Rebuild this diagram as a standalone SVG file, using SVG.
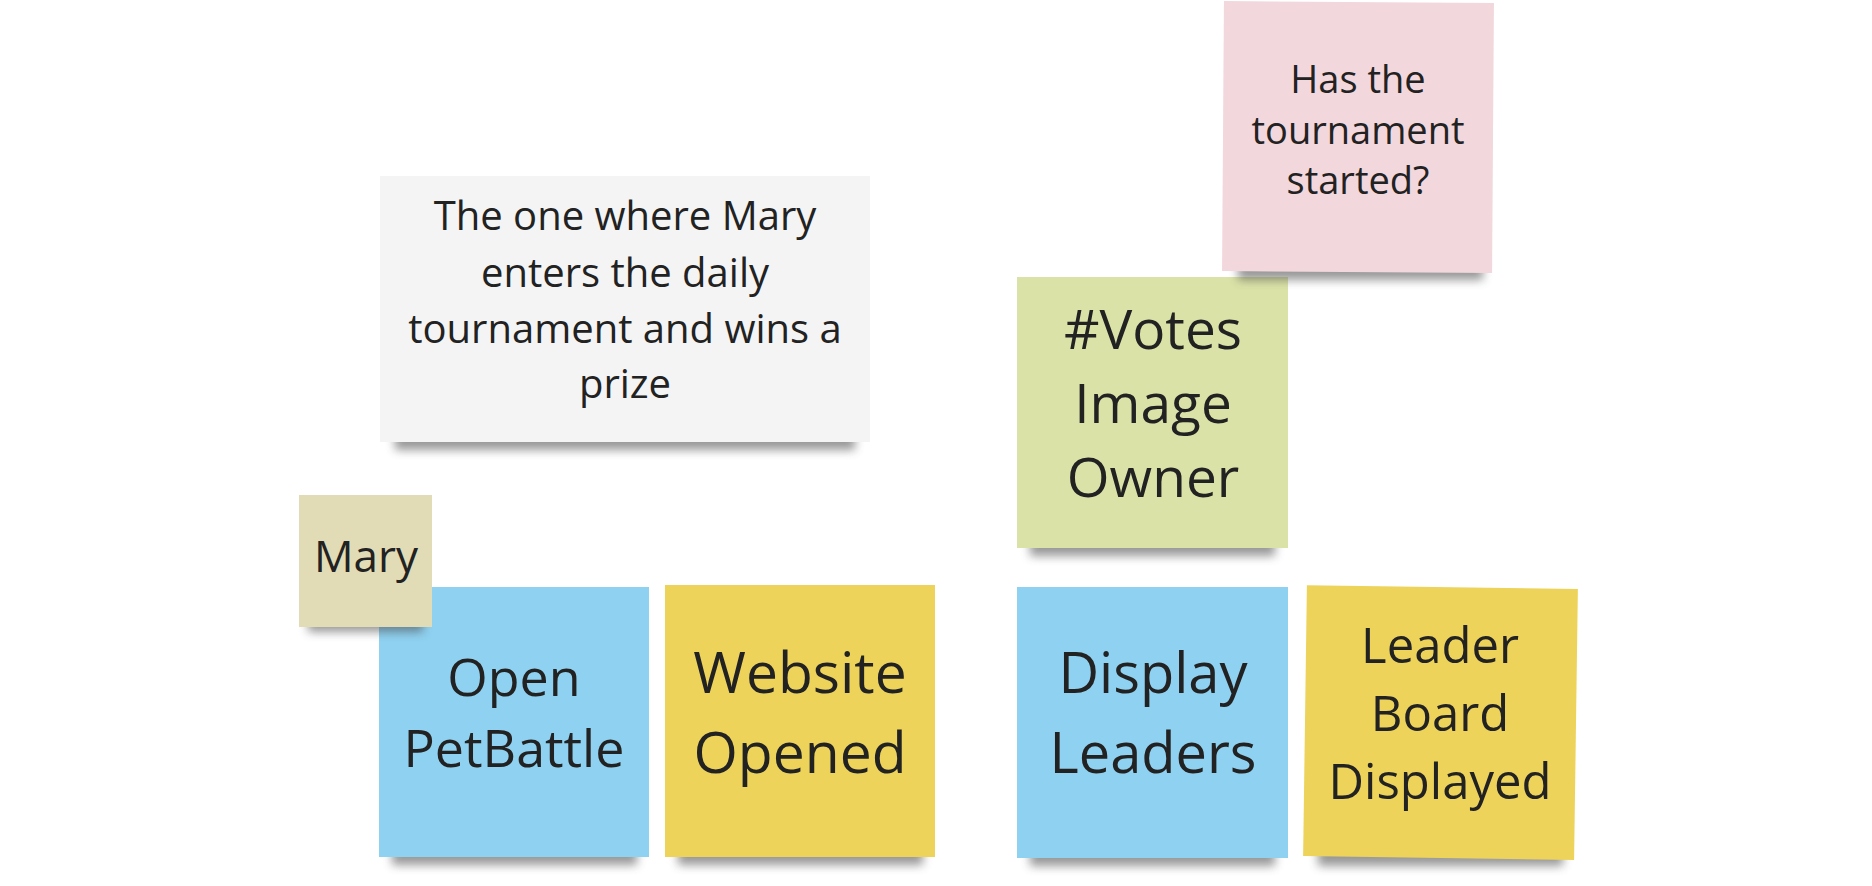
<svg xmlns="http://www.w3.org/2000/svg" width="1872" height="886" viewBox="0 0 1872 886">
<defs>
<filter id="blur" x="-20%" y="-100%" width="140%" height="300%"><feGaussianBlur stdDeviation="5"/></filter>
<style>
text{font-family:"Open Sans","Noto Sans","DejaVu Sans",sans-serif;fill:#222;text-anchor:middle}
.sh{fill:#444;opacity:.55;filter:url(#blur)}
</style>
</defs>
<rect width="1872" height="886" fill="#fff"/>
<g id="connectors"/>
<g id="story">
<rect class="sh" x="395" y="428" width="460" height="22"/>
<rect x="380" y="176" width="490" height="266" fill="#f4f4f4"/>
<text font-size="40"><tspan x="625" y="230">The one where Mary</tspan><tspan x="625" y="287">enters the daily</tspan><tspan x="625" y="343">tournament and wins a</tspan><tspan x="625" y="398">prize</tspan></text>
</g>
<g id="votes">
<rect class="sh" x="1030" y="534" width="245" height="22"/>
<rect x="1017" y="277" width="271" height="271" fill="#dbe2a7"/>
<text font-size="55"><tspan x="1153" y="349">#Votes</tspan><tspan x="1153" y="423">Image</tspan><tspan x="1153" y="497">Owner</tspan></text>
</g>
<g id="question">
<rect class="sh" x="1238" y="258" width="245" height="22"/>
<rect x="1223" y="2" width="270" height="270" fill="#f2d7dc" transform="rotate(0.4 1358 137)"/>
<text font-size="38"><tspan x="1358" y="93">Has the</tspan><tspan x="1358" y="143.5">tournament</tspan><tspan x="1358" y="194">started?</tspan></text>
</g>
<g id="open-petbattle">
<rect class="sh" x="392" y="843" width="245" height="22"/>
<rect x="379" y="587" width="270" height="270" fill="#8fd1f0"/>
<text font-size="52"><tspan x="514" y="696">Open</tspan><tspan x="514" y="767">PetBattle</tspan></text>
</g>
<g id="mary">
<rect class="sh" x="308" y="614" width="115" height="18"/>
<rect x="299" y="495" width="133" height="132" fill="#e2dcb6"/>
<text font-size="44" x="366" y="572">Mary</text>
</g>
<g id="website-opened">
<rect class="sh" x="678" y="843" width="245" height="22"/>
<rect x="665" y="585" width="270" height="272" fill="#edd35a"/>
<text font-size="57"><tspan x="800" y="693">Website</tspan><tspan x="800" y="773">Opened</tspan></text>
</g>
<g id="display-leaders">
<rect class="sh" x="1030" y="844" width="245" height="22"/>
<rect x="1017" y="587" width="271" height="271" fill="#8fd1f0"/>
<text font-size="56"><tspan x="1153" y="693">Display</tspan><tspan x="1153" y="773">Leaders</tspan></text>
</g>
<g id="leader-board-displayed">
<rect class="sh" x="1318" y="844" width="245" height="22"/>
<rect x="1305" y="587" width="271" height="271" fill="#edd35a" transform="rotate(0.8 1440 722)"/>
<text font-size="49"><tspan x="1440" y="663">Leader</tspan><tspan x="1440" y="731">Board</tspan><tspan x="1440" y="799">Displayed</tspan></text>
</g>
</svg>
